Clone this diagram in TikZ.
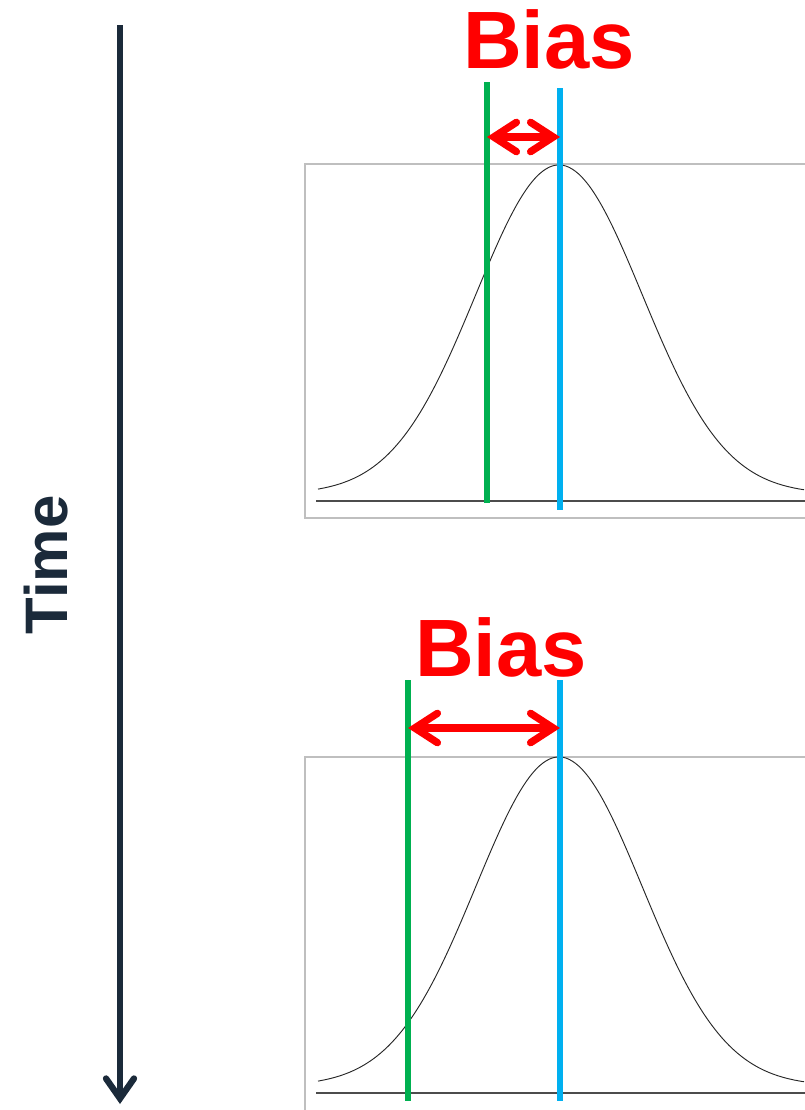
\documentclass[tikz,border=0pt]{standalone}
\usepackage{fontspec}
\setmainfont{Liberation Sans}
\usetikzlibrary{arrows.meta}
\definecolor{navy}{HTML}{1B2A3A}
\definecolor{biasred}{HTML}{FF0000}
\definecolor{estgreen}{HTML}{00B050}
\definecolor{truthblue}{HTML}{00B0F0}
\tikzset{
  panel/.style={draw=gray!50, line width=0.9pt},
  axisline/.style={draw=black!70, line width=1.3pt},
  bell/.style={black!85, line width=0.7pt, smooth},
  estline/.style={estgreen, line width=4.5pt},
  truthline/.style={truthblue, line width=4.5pt},
  biasarrow/.style={biasred, line width=5.5pt, {Straight Barb[length=17pt, width=22pt, line cap=round]}-{Straight Barb[length=17pt, width=22pt, line cap=round]}},
  biaslabel/.style={text=biasred, font=\bfseries\fontsize{61}{70}\selectfont, anchor=base, inner sep=0pt},
}
\begin{document}
\begin{tikzpicture}[x=0.75pt, y=-0.75pt]
            \useasboundingbox (0,0) rectangle (804,1110);
            % time axis
            \coordinate (t0) at (120,25);
            \coordinate (t1) at (120,1104);
            \draw[navy, line width=4.75pt, -{Straight Barb[length=15pt, width=21pt, line cap=round]}] (t0) -- (t1);
            \node[rotate=90, anchor=base, inner sep=0pt, text=navy, font=\bfseries\fontsize{45}{54}\selectfont] (time) at (67,565) {Time};
            % first panel
            \draw[panel] (305,164) rectangle (830,518);
            \draw[axisline] (316,501) -- (830,501);
            \draw[bell, domain=318:804, samples=150, variable=\x] plot ({\x}, {494-329*exp(-(((\x-559)/100)^2)/1.3824)});
            \coordinate (g1a) at (487,82);
            \coordinate (g1b) at (487,503);
            \coordinate (b1a) at (560,88);
            \coordinate (b1b) at (560,510);
            \draw[estline] (g1a) -- (g1b);
            \draw[truthline] (b1a) -- (b1b);
            \draw[biasarrow] (487,137) -- (560,137);
            \node[biaslabel] (bias1) at (549,68) {Bias};
            % second panel
            \draw[panel] (305,757) rectangle (830,1130);
            \draw[axisline] (316,1093) -- (830,1093);
            \draw[bell, domain=318:804, samples=150, variable=\x] plot ({\x}, {1086-329*exp(-(((\x-559)/100)^2)/1.3824)});
            \coordinate (g2a) at (408,680);
            \coordinate (g2b) at (408,1101);
            \coordinate (b2a) at (560,680);
            \coordinate (b2b) at (560,1101);
            \draw[estline] (g2a) -- (g2b);
            \draw[truthline] (b2a) -- (b2b);
            \draw[biasarrow] (408,728) -- (560,728);
            \node[biaslabel] (bias2) at (501,676) {Bias};
        \end{tikzpicture}
\end{document}
